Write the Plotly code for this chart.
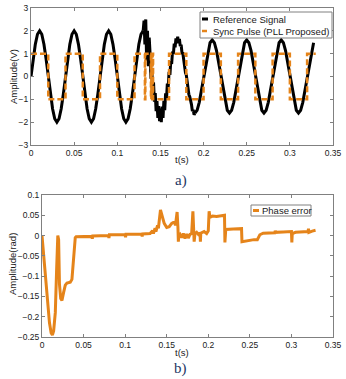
import plotly.graph_objects as go

# ---------------- data ----------------
# Reference signal, clean part 1: t = 0 .. 0.13 s, step 0.0025 s
ref1_t0, ref1_dt = 0.0, 0.0025
ref1_v = [0, 0.77, 1.41, 1.85, 2, 1.85, 1.41, 0.77, 0, -0.77, -1.41, -1.85, -2, -1.85, -1.41, -0.77,
          0, 0.77, 1.41, 1.85, 2, 1.85, 1.41, 0.77, 0, -0.77, -1.41, -1.85, -2, -1.85, -1.41, -0.77,
          0, 0.77, 1.41, 1.85, 2, 1.85, 1.41, 0.77, 0, -0.77, -1.41, -1.85, -2, -1.85, -1.41, -0.77,
          0, 0.77, 1.41, 1.85, 2]
# Reference signal, disturbed part: t = 0.13 .. 0.19 s, step 0.001 s
ref2_t0, ref2_dt = 0.13, 0.001
ref2_v = [2.0, 2.45, 1.4, 2.5, 0.7, 2.0, 0.45, 1.7, 1.0, -0.1,
          0.35, -0.58, -0.25, -1.1, -0.73, -1.52, -1.08, -1.81, -1.3, -1.96,
          -1.4, -2.0, -1.32, -1.81, -1.07, -1.48, -0.74, -1.01, -0.31, -0.46,
          0.2, 0.07, 0.67, 0.55, 1.09, 0.98, 1.44, 1.28, 1.67, 1.46,
          1.74, 1.46, 1.64, 1.33, 1.39, 1.03, 1.02, 0.65, 0.57, 0.17,
          0.06, -0.31, -0.43, -0.79, -0.88, -1.19, -1.23, -1.51, -1.46, -1.68,
          -1.6]
# Reference signal, clean part 2: t = 0.19 .. 0.3275 s, step 0.0025 s
ref3_t0, ref3_dt = 0.19, 0.0025
ref3_v = [-1.6, -1.48, -1.13, -0.61, 0, 0.61, 1.13, 1.48, 1.6, 1.48, 1.13, 0.61, 0, -0.61, -1.13, -1.48,
          -1.6, -1.48, -1.13, -0.61, 0, 0.61, 1.13, 1.48, 1.6, 1.48, 1.13, 0.61, 0, -0.61, -1.13, -1.48,
          -1.6, -1.48, -1.13, -0.61, 0, 0.61, 1.13, 1.48, 1.6, 1.48, 1.13, 0.61, 0, -0.61, -1.13, -1.48,
          -1.6, -1.48, -1.13, -0.61, 0, 0.61, 1.13, 1.48]

# Sync pulse (step levels, held until next time)
sync_t = [0, 0.02, 0.04, 0.06, 0.08, 0.10, 0.12,
          0.132, 0.1325, 0.139, 0.1395, 0.1405, 0.141, 0.1415,
          0.16, 0.18, 0.20, 0.22, 0.24, 0.26, 0.28, 0.30, 0.32, 0.33]
sync_v = [1, -1, 1, -1, 1, -1, 1,
          -1, 1, -1, 1, -1, 1, -1,
          1, -1, 1, -1, 1, -1, 1, -1, 1, 1]

# Phase error
pe_t = [0.000, 0.003, 0.006, 0.009, 0.011, 0.0125, 0.014, 0.016, 0.0175, 0.019,
        0.020, 0.021, 0.0225, 0.024, 0.026, 0.028, 0.030, 0.034, 0.036, 0.038,
        0.040, 0.041, 0.060, 0.0605, 0.061, 0.080, 0.0805, 0.081, 0.100, 0.1005,
        0.101, 0.120, 0.1205, 0.121, 0.130, 0.133, 0.134, 0.136, 0.137, 0.139,
        0.140, 0.1425, 0.1445, 0.147, 0.150, 0.153, 0.156, 0.1595, 0.1605, 0.1625,
        0.1635, 0.164, 0.1645, 0.166, 0.168, 0.170, 0.172, 0.174, 0.176, 0.178,
        0.180, 0.1815, 0.1825, 0.183, 0.184, 0.186, 0.188, 0.190, 0.1905, 0.191,
        0.195, 0.198, 0.200, 0.201, 0.202, 0.205, 0.210, 0.215, 0.2195, 0.220,
        0.221, 0.230, 0.240, 0.2405, 0.245, 0.250, 0.255, 0.259, 0.262, 0.266,
        0.270, 0.280, 0.2805, 0.281, 0.290, 0.300, 0.3005, 0.301, 0.305, 0.310,
        0.320, 0.3205, 0.321, 0.325, 0.329]
pe_v = [0.0, -0.07, -0.15, -0.215, -0.24, -0.245, -0.235, -0.19, -0.09, 0.0,
        -0.01, -0.12, -0.155, -0.16, -0.14, -0.122, -0.117, -0.115, -0.108, -0.06,
        -0.005, -0.003, -0.002, -0.008, -0.001, 0.0, -0.006, 0.002, 0.002, -0.004,
        0.003, 0.003, -0.002, 0.004, 0.005, 0.012, 0.005, 0.018, 0.010, 0.025,
        0.018, 0.063, 0.048, 0.030, 0.020, 0.022, 0.030, 0.034, 0.025, 0.058,
        0.020, -0.015, 0.0, 0.003, -0.005, 0.005, -0.007, 0.004, -0.006, 0.003,
        0.005, 0.060, 0.010, -0.015, 0.005, 0.008, 0.003, 0.007, -0.015, 0.006,
        0.010, 0.005, 0.012, 0.060, 0.045, 0.048, 0.047, 0.049, 0.050, -0.017,
        0.015, 0.016, 0.017, -0.015, -0.013, -0.012, -0.010, -0.010, 0.002, 0.006,
        0.006, 0.007, 0.012, 0.008, 0.009, 0.010, -0.017, 0.005, 0.008, 0.009,
        0.010, 0.017, 0.008, 0.011, 0.013]

x_ticks = [0, 0.05, 0.1, 0.15, 0.2, 0.25, 0.3, 0.35]
y1_ticks = [-3, -2, -1, 0, 1, 2, 3]
y2_ticks = [-0.25, -0.2, -0.15, -0.1, -0.05, 0, 0.05, 0.1]

NAME_REF = 'Reference Signal'
NAME_SYNC = 'Sync Pulse (PLL Proposed)'
NAME_PE = 'Phase error'

# ---------------- figure ----------------
W, H = 346, 379
ORANGE = '#E5841A'
AXC = '#808080'
FONT = 'Liberation Sans'
TXT = '#1a1a1a'

fig = go.Figure()
for t0, dt, v in [(ref1_t0, ref1_dt, ref1_v), (ref2_t0, ref2_dt, ref2_v), (ref3_t0, ref3_dt, ref3_v)]:
    fig.add_trace(go.Scatter(x0=t0, dx=dt, y=v, mode='lines', name=NAME_REF,
                             line=dict(color='black', width=3), showlegend=False,
                             xaxis='x', yaxis='y'))
fig.add_trace(go.Scatter(x=sync_t, y=sync_v, mode='lines', name=NAME_SYNC,
                         line=dict(color=ORANGE, width=2.5, dash='6px,3px', shape='hv'),
                         showlegend=False, xaxis='x', yaxis='y'))
fig.add_trace(go.Scatter(x=pe_t, y=pe_v, mode='lines', name=NAME_PE,
                         line=dict(color=ORANGE, width=3), showlegend=False,
                         xaxis='x2', yaxis='y2'))

def ax(domain, rng, ticks, **kw):
    d = dict(domain=domain, range=rng, tickvals=ticks, showgrid=False, zeroline=False,
             showline=True, linecolor=AXC, linewidth=1, mirror='ticks', ticks='inside',
             ticklen=3, tickcolor=AXC, automargin=False,
             tickfont=dict(family=FONT, size=8.5, color=TXT))
    d.update(kw)
    return d

def label(text, x, y, angle=0, size=9.5, family=FONT, color=TXT, xanchor='center'):
    return dict(text=text, x=x / W, y=1 - y / H, xref='paper', yref='paper', showarrow=False,
                textangle=angle, xanchor=xanchor, yanchor='middle',
                font=dict(family=family, size=size, color=color))

def pline(x0, x1, y, color, width, dash='solid'):
    return dict(type='line', xref='paper', yref='paper', x0=x0 / W, x1=x1 / W,
                y0=1 - y / H, y1=1 - y / H, line=dict(color=color, width=width, dash=dash))

def pbox(x0, x1, y0, y1):
    return dict(type='rect', xref='paper', yref='paper', x0=x0 / W, x1=x1 / W,
                y0=1 - y1 / H, y1=1 - y0 / H, fillcolor='white',
                line=dict(color=AXC, width=1), layer='above')

shapes = [
    pbox(200, 332, 12, 38),
    pline(202, 208, 19, 'black', 3),
    pline(202, 207, 31, ORANGE, 2.5),
    pbox(251, 311, 205, 216),
    pline(253, 259, 210.5, ORANGE, 3),
]

fig.update_layout(
    width=W, height=H, margin=dict(l=0, r=0, t=0, b=0, autoexpand=False),
    paper_bgcolor='white', plot_bgcolor='white', showlegend=False,
    font=dict(family=FONT, size=10, color=TXT),
    xaxis=ax([31 / W, 333 / W], [0, 0.35], x_ticks, anchor='y'),
    yaxis=ax([1 - 145 / H, 1 - 8 / H], [-3, 3], y1_ticks, anchor='x'),
    xaxis2=ax([42 / W, 333 / W], [0, 0.35], x_ticks, anchor='y2'),
    yaxis2=ax([1 - 337 / H, 1 - 195 / H], [-0.25, 0.1], y2_ticks, anchor='x2'),
    shapes=shapes,
    annotations=[
        label('Amplitude(V)', 14, 77, angle=-90),
        label('t(s)', 182, 160),
        label('Amplitude(rad)', 12, 264, angle=-90),
        label('t(s)', 182, 352),
        label('a)', 181, 181, size=15, family='Liberation Serif', color='#1F3864'),
        label('b)', 180, 368, size=15, family='Liberation Serif', color='#1F3864'),
        label(NAME_REF, 211, 19, size=9.5, xanchor='left'),
        label(NAME_SYNC, 211, 31, size=9.5, xanchor='left'),
        label(NAME_PE, 260, 210.5, size=9.5, xanchor='left'),
    ],
)

fig.write_html('out.html', config={'displayModeBar': False},
               post_script="document.body.style.margin='0';document.body.style.overflow='hidden';")
